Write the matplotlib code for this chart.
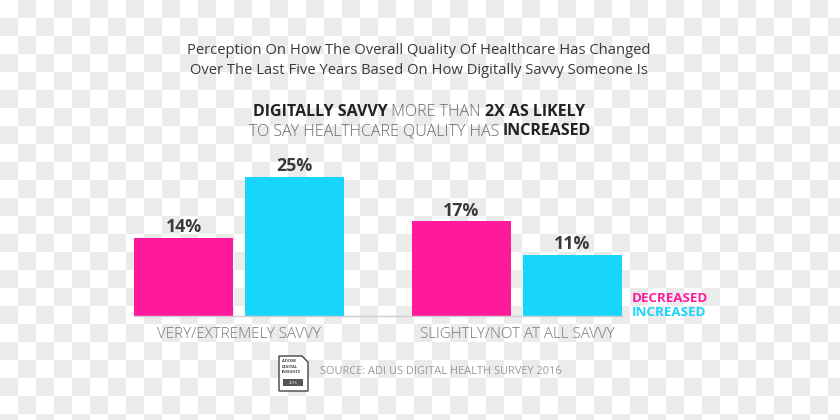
import numpy as np
import matplotlib
matplotlib.use("Agg")
import matplotlib.pyplot as plt
from matplotlib.patches import Rectangle, Polygon

# ---- data ----
groups = ["VERY/EXTREMELY SAVVY", "SLIGHTLY/NOT AT ALL SAVVY"]
series = ["DECREASED", "INCREASED"]
decreased = [14, 17]
increased = [25, 11]
colors = {"DECREASED": "#ff1a9c", "INCREASED": "#18d6fb"}

title_lines = [
    "Perception On How The Overall Quality Of Healthcare Has Changed",
    "Over The Last Five Years Based On How Digitally Savvy Someone Is",
]
subtitle_lines = [
    [("DIGITALLY SAVVY", "bold"), (" MORE THAN ", "light"), ("2X AS LIKELY", "bold")],
    [("TO SAY HEALTHCARE QUALITY HAS ", "light"), ("INCREASED", "bold")],
]
source_text = "SOURCE: ADI US DIGITAL HEALTH SURVEY 2016"

W, H = 840, 420
plt.rcParams["font.family"] = ["Open Sans", "DejaVu Sans"]
fig = plt.figure(figsize=(W / 100, H / 100), dpi=100)
fig.patch.set_facecolor("white")

# checkerboard background (transparency placeholder)
cell = 18
yy, xx = np.mgrid[0:H, 0:W]
board = (((xx // cell) + (yy // cell)) % 2).astype(float)
img = np.where(board[..., None] > 0, 235 / 255, 1.0) * np.ones((H, W, 3))
bg = fig.add_axes([0, 0, 1, 1])
bg.imshow(img, extent=[0, W, H, 0], interpolation="nearest", aspect="auto")
bg.set_xlim(0, W)
bg.set_ylim(H, 0)
bg.axis("off")

def px(x, y):
    return x / W, 1 - y / H

# ---- bars ----
ax = fig.add_axes([134 / W, 1 - 316 / H, (622 - 134) / W, 139 / H])
ax.patch.set_alpha(0)
x = np.arange(len(groups))
bw = 0.356
off = 0.2
for vals, name, sgn in [(decreased, "DECREASED", -1), (increased, "INCREASED", 1)]:
    bars = ax.bar(x + sgn * off, vals, bw, color=colors[name], edgecolor="none")
    for b, v in zip(bars, vals):
        ax.text(b.get_x() + b.get_width() / 2, v + 0.3, f"{v}%", ha="center",
                va="bottom", fontsize=12.8, fontweight="bold", color="#3a3a3a",
                clip_on=False)
ax.set_xlim(-0.378, 1.378)
ax.set_ylim(0, 25)
for s in ["top", "right", "left"]:
    ax.spines[s].set_visible(False)
ax.spines["bottom"].set_color("#cfcfcf")
ax.spines["bottom"].set_linewidth(1.0)
ax.set_yticks([])
ax.set_xticks(x)
ax.set_xticklabels(groups, fontsize=10.9, color="#777777", fontweight="light")
ax.tick_params(axis="x", length=0, pad=8)

# legend text
fig.text(*px(632, 299), series[0], color=colors["DECREASED"], fontsize=9.6,
         fontweight="bold", va="center", ha="left")
fig.text(*px(632, 312), series[1], color=colors["INCREASED"], fontsize=9.6,
         fontweight="bold", va="center", ha="left")

# ---- titles ----
for i, line in enumerate(title_lines):
    fig.text(*px(419, 50 + i * 20), line, ha="center", va="center",
             fontsize=10.6, color="#3a3a3a")

renderer = fig.canvas.get_renderer()

def rich_line(cx, cy, parts, size):
    texts = []
    widths = []
    for t, wgt in parts:
        tt = fig.text(0, 0, t, fontsize=size, fontweight=wgt, va="center",
                      ha="left", color="#222222" if wgt == "bold" else "#6a6a6a")
        bb = tt.get_window_extent(renderer)
        texts.append(tt)
        widths.append(bb.width)
    total = sum(widths)
    start = cx - total / 2
    for tt, w in zip(texts, widths):
        tt.set_position(px(start, cy))
        start += w

rich_line(419, 112, subtitle_lines[0], 11.55)
rich_line(420, 131, subtitle_lines[1], 11.55)

# ---- source & logo ----
logo = bg
logo.add_patch(Polygon([[279, 356], [302, 356], [308, 362], [308, 391], [279, 391]],
                       closed=True, facecolor="white", edgecolor="#444444", lw=1.0))
for j, word in enumerate(["ADOBE", "DIGITAL", "INSIGHTS"]):
    logo.text(282, 361 + j * 5.5, word, fontsize=3, fontweight="bold",
              color="#444444", va="center", ha="left")
logo.add_patch(Rectangle((283, 379), 20, 7, facecolor="#555555", edgecolor="none"))
logo.text(293, 382.5, "2016", fontsize=2.8, color="white", ha="center", va="center")
fig.text(*px(320, 371), source_text, fontsize=7.9, color="#999999",
         va="center", ha="left")

fig.savefig("out.png", dpi=100)
